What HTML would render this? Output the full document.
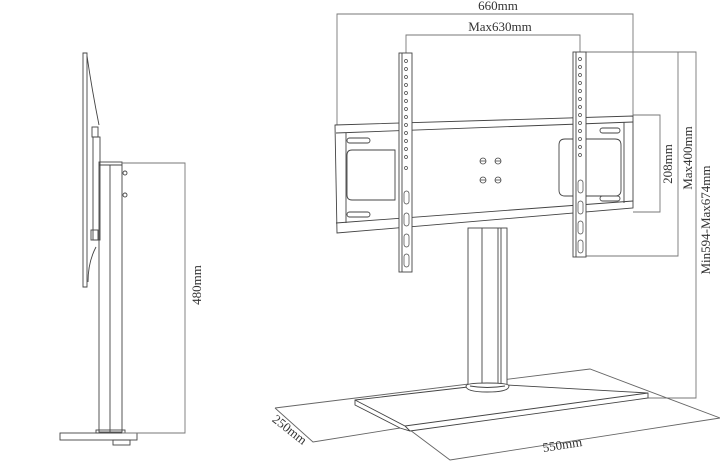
<!DOCTYPE html>
<html><head><meta charset="utf-8"><style>
html,body{margin:0;padding:0;background:#fff;}
svg{display:block;}
text{font-family:"Liberation Serif",serif;fill:#333;stroke:none;font-size:13px;}
</style></head><body>
<svg width="720" height="461" viewBox="0 0 720 461" xmlns="http://www.w3.org/2000/svg" fill="none" stroke="#444" stroke-width="0.9">
<!-- SIDE VIEW -->
<path d="M83,53 L87,53 L87,287 L83,287 Z" fill="#fff"/>
<path d="M87,56 Q92,90 99,125"/>
<rect x="92" y="127" width="6" height="10"/>
<rect x="93" y="137" width="7" height="103"/>
<rect x="91" y="230" width="7" height="10"/>
<path d="M96,247 Q88,262 88,282"/>
<rect x="99" y="162" width="23" height="270"/>
<line x1="110" y1="165" x2="110" y2="432"/>
<line x1="99" y1="165" x2="122" y2="165"/>
<circle cx="125" cy="173" r="2"/><circle cx="125" cy="195" r="2"/>
<rect x="96" y="430" width="29" height="3"/>
<rect x="60" y="433" width="77" height="7"/>
<rect x="113" y="440" width="17" height="5"/>
<path d="M122,163 H185 V433 H122" stroke="#777"/>
<text x="0" y="0" transform="translate(201,285) rotate(-90)" text-anchor="middle">480mm</text>

<!-- DIMENSIONS FRONT -->
<path d="M337,125 V14 H633 V116" stroke="#777"/>
<text x="498" y="10" text-anchor="middle">660mm</text>
<path d="M406,55 V35 H580 V52" stroke="#777"/>
<text x="500" y="31" text-anchor="middle">Max630mm</text>
<path d="M633,115 H660 V212 H633" stroke="#777"/>
<text transform="translate(672,164) rotate(-90)" text-anchor="middle">208mm</text>
<path d="M586,52 H678 V256 H586" stroke="#777"/>
<text transform="translate(692,158) rotate(-90)" text-anchor="middle">Max400mm</text>
<path d="M660,52 H696 V398 H648" stroke="#777"/>
<text transform="translate(710,220) rotate(-90)" text-anchor="middle">Min594-Max674mm</text>

<!-- FOOTPRINT & BASE -->
<path d="M275,408 L590,369 L720,418 L450,460 L410,430 M400,428 L313,442 L275,408" stroke="#666"/>
<path d="M355,400 L468,387 L507,385 L648,393 L648,398 L410,431 L400,428 L355,405 Z" fill="#fff"/>
<path d="M355,400 L405,426 L648,393 M405,426 L410,431"/>

<!-- COLUMN -->
<rect x="468" y="228" width="39" height="158" fill="#fff"/>
<line x1="482" y1="228" x2="482" y2="386"/>
<line x1="498" y1="228" x2="498" y2="386"/>
<line x1="501" y1="228" x2="501" y2="386"/>
<path d="M466,386 Q466,392 487,392 Q509,392 509,386 Q509,383 487,383 Q466,383 466,386 Z" fill="#fff"/>
<path d="M470,386 Q487,389 505,386"/>

<!-- PLATE -->
<path d="M335,125 L633,116 L633,208 L337,233 Z" fill="#fff"/>
<line x1="336" y1="133" x2="633" y2="122"/>
<line x1="336" y1="223" x2="633" y2="201"/>
<line x1="346" y1="133" x2="346" y2="223"/>
<line x1="624" y1="122" x2="624" y2="203"/>
<rect x="347" y="138" width="23" height="5" rx="2.5"/>
<rect x="347" y="212" width="23" height="5" rx="2.5"/>
<path d="M352,150 H395 V200 H352 Q347,200 347,195 V155 Q347,150 352,150 Z"/>
<rect x="600" y="128" width="20" height="5" rx="2.5"/>
<rect x="600" y="196" width="20" height="5" rx="2.5"/>
<path d="M565,139 H615 Q621,139 621,145 V190 Q621,196 615,196 H565 Q559,196 559,190 V145 Q559,139 565,139 Z"/>
<g stroke-width="0.8"><circle cx="483" cy="161" r="3"/><circle cx="498" cy="161" r="3"/><circle cx="483" cy="180" r="3"/><circle cx="498" cy="180" r="3"/>
<line x1="480" y1="161" x2="486" y2="161"/><line x1="495" y1="161" x2="501" y2="161"/><line x1="480" y1="180" x2="486" y2="180"/><line x1="495" y1="180" x2="501" y2="180"/></g>

<!-- BRACKETS -->
<rect x="399" y="53" width="13" height="219" fill="#fff"/>
<line x1="402" y1="53" x2="402" y2="272"/>
<rect x="573" y="52" width="13" height="205" fill="#fff"/>
<line x1="576" y1="52" x2="576" y2="257"/>
<g stroke-width="0.7">
<circle cx="406" cy="61" r="1.5"/><circle cx="406" cy="69" r="1.5"/><circle cx="406" cy="77" r="1.5"/><circle cx="406" cy="85" r="1.5"/><circle cx="406" cy="93" r="1.5"/><circle cx="406" cy="101" r="1.5"/><circle cx="406" cy="109" r="1.5"/><circle cx="406" cy="117" r="1.5"/><circle cx="406" cy="125" r="1.5"/><circle cx="406" cy="133" r="1.5"/><circle cx="406" cy="141" r="1.5"/><circle cx="406" cy="149" r="1.5"/><circle cx="406" cy="157" r="1.5"/><circle cx="406" cy="168" r="1.5"/>
<rect x="404" y="191" width="5" height="13" rx="2.5"/><rect x="404" y="213" width="5" height="13" rx="2.5"/><rect x="404" y="234" width="5" height="13" rx="2.5"/><rect x="404" y="254" width="5" height="13" rx="2.5"/>
<circle cx="580" cy="59" r="1.5"/><circle cx="580" cy="67" r="1.5"/><circle cx="580" cy="75" r="1.5"/><circle cx="580" cy="83" r="1.5"/><circle cx="580" cy="91" r="1.5"/><circle cx="580" cy="99" r="1.5"/><circle cx="580" cy="107" r="1.5"/><circle cx="580" cy="115" r="1.5"/><circle cx="580" cy="123" r="1.5"/><circle cx="580" cy="131" r="1.5"/><circle cx="580" cy="139" r="1.5"/><circle cx="580" cy="147" r="1.5"/><circle cx="580" cy="155" r="1.5"/>
<rect x="578" y="180" width="5" height="13" rx="2.5"/><rect x="578" y="201" width="5" height="13" rx="2.5"/><rect x="578" y="221" width="5" height="13" rx="2.5"/><rect x="578" y="240" width="5" height="13" rx="2.5"/>
</g>

<text transform="translate(287,433) rotate(38)" text-anchor="middle">250mm</text>
<text transform="translate(563,449) rotate(-9)" text-anchor="middle">550mm</text>
</svg>
</body></html>
